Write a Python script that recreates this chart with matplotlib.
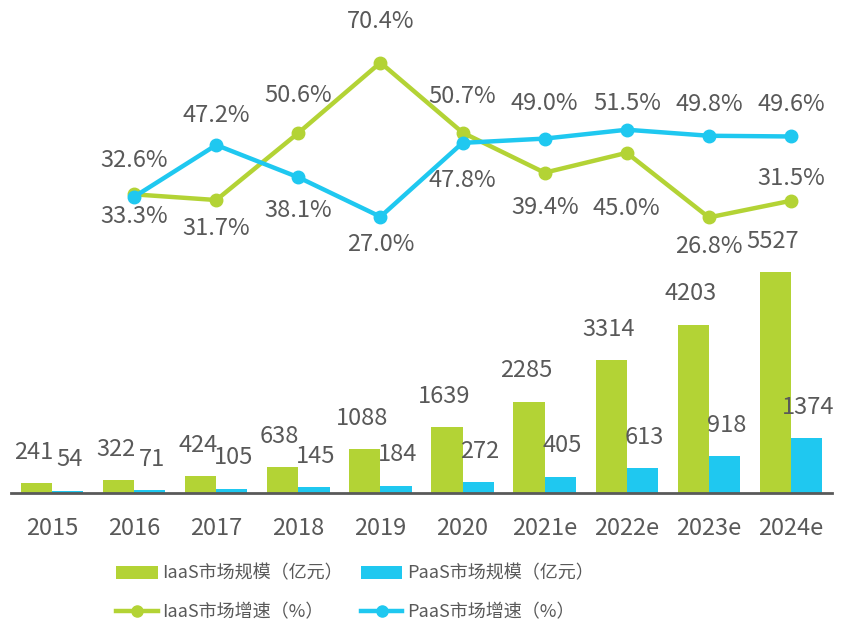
import matplotlib
matplotlib.use("Agg")
import matplotlib.pyplot as plt
import numpy as np
from matplotlib.patches import Patch
from matplotlib.lines import Line2D

plt.rcParams['font.family'] = ['Noto Sans CJK SC', 'DejaVu Sans']

years = ['2015', '2016', '2017', '2018', '2019', '2020', '2021e', '2022e', '2023e', '2024e']
iaas_size = [241, 322, 424, 638, 1088, 1639, 2285, 3314, 4203, 5527]
paas_size = [54, 71, 105, 145, 184, 272, 405, 613, 918, 1374]
# growth rates start from 2016
iaas_growth = [33.3, 31.7, 50.6, 70.4, 50.7, 39.4, 45.0, 26.8, 31.5]
paas_growth = [32.6, 47.2, 38.1, 27.0, 47.8, 49.0, 51.5, 49.8, 49.6]

# label offsets in pixels (positive = above the point)
iaas_off = [-22, -28, 37, 41, 36, -35, -56, -29, 22]
paas_off = [36, 29, -33, -28, -38, 35, 26, 31, 32]

green = '#b3d335'
cyan = '#1fc8f0'
grey = '#595959'

W, H = 849, 624
fig = plt.figure(figsize=(W / 100, H / 100), dpi=100)
ax = fig.add_axes([11 / W, (H - 493) / H, (832 - 11) / W, (493 - 20) / H])

x = np.arange(len(years))
w = 0.38
b1 = ax.bar(x - w / 2, iaas_size, w, color=green, zorder=2)
b2 = ax.bar(x + w / 2, paas_size, w, color=cyan, zorder=2)
ax.set_xlim(-0.5, 9.5)
ax.set_ylim(0, 11830)

# iaas labels nudged left, paas right, like the original
for bars, vals, dx in ((b1, iaas_size, -3), (b2, paas_size, 2)):
    for r, v in zip(bars, vals):
        ax.annotate(str(v), (r.get_x() + r.get_width() / 2, v),
                    xytext=(dx, 31), textcoords='offset pixels',
                    ha='center', va='center', fontsize=17, color=grey)

for s in ['top', 'right', 'left']:
    ax.spines[s].set_visible(False)
ax.spines['bottom'].set_color(grey)
ax.spines['bottom'].set_linewidth(2)
ax.set_yticks([])
ax.set_xticks(x)
ax.set_xticklabels(years, fontsize=17, color=grey)
ax.tick_params(axis='x', length=0, pad=17)

ax2 = ax.twinx()
ax2.set_ylim(-50.8, 82.4)
ax2.set_yticks([])
for s in ax2.spines.values():
    s.set_visible(False)

xl = x[1:]
ax2.plot(xl, iaas_growth, color=green, lw=3.2, marker='o', ms=9, zorder=3)
ax2.plot(xl, paas_growth, color=cyan, lw=3.2, marker='o', ms=9, zorder=4)

for vals, offs in ((iaas_growth, iaas_off), (paas_growth, paas_off)):
    for xi, v, o in zip(xl, vals, offs):
        ax2.annotate(f'{v:.1f}%', (xi, v), xytext=(0, o),
                     textcoords='offset pixels', ha='center', va='center',
                     fontsize=17, color=grey)

handles = [
    Patch(facecolor=green, label='IaaS市场规模（亿元）'),
    Line2D([], [], color=green, lw=3.2, marker='o', ms=8, label='IaaS市场增速（%）'),
    Patch(facecolor=cyan, label='PaaS市场规模（亿元）'),
    Line2D([], [], color=cyan, lw=3.2, marker='o', ms=8, label='PaaS市场增速（%）'),
]
leg = fig.legend(handles=handles, ncol=2, loc='center', bbox_to_anchor=(355 / W, 1 - 593 / H),
                 frameon=False, fontsize=13, handlelength=2.3, handletextpad=0.25,
                 columnspacing=1.0, labelspacing=1.15)
for t in leg.get_texts():
    t.set_color(grey)

fig.savefig('out.png', dpi=100)
